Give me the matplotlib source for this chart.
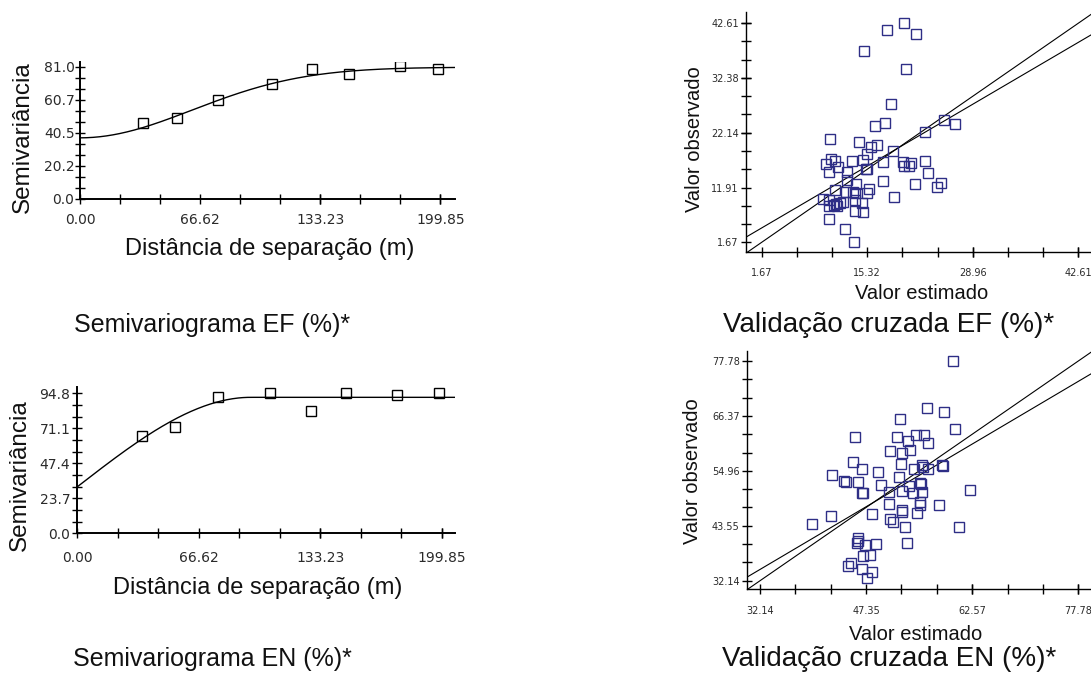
import numpy as np
import matplotlib.pyplot as plt
from matplotlib.ticker import FixedLocator

plt.rcParams["font.family"] = ["Liberation Sans", "DejaVu Sans"]

W, H = 1091, 677

# ---- semivariograma EF (modelo gaussiano)
lag_ef = [35.1, 54.0, 76.8, 106.4, 128.6, 149.4, 177.7, 198.8]
gamma_ef = [46.3, 49.3, 60.7, 70.4, 79.6, 76.5, 81.4, 79.6]
c0_ef, c_ef, a_ef = 37.4, 43.4, 88.0  # efeito pepita, contribuição, alcance

# ---- semivariograma EN (modelo esférico)
lag_en = [35.6, 53.8, 77.2, 105.5, 127.9, 147.5, 175.0, 198.5]
gamma_en = [65.9, 72.2, 92.1, 95.2, 82.8, 95.2, 93.5, 95.0]
c0_en, c_en, a_en = 31.5, 60.6, 95.0

dist_ticks = [0.0, 66.62, 133.23, 199.85]
dist_labels = ["0.00", "66.62", "133.23", "199.85"]
gam_ticks_ef = [0.0, 20.25, 40.5, 60.75, 81.0]
gam_labels_ef = ["0.0", "20.2", "40.5", "60.7", "81.0"]
gam_ticks_en = [0.0, 23.7, 47.4, 71.1, 94.8]
gam_labels_en = ["0.0", "23.7", "47.4", "71.1", "94.8"]

# ---- validação cruzada EF
est_ef = [20.12, 17.83, 21.67, 14.95, 20.29, 18.44, 25.25, 26.67, 16.37, 17.66,
          22.79, 10.55, 14.26, 15.81, 16.54, 18.70, 15.25, 10.59, 11.20, 9.99,
          14.73, 13.39, 17.36, 19.99, 20.68, 21.02, 20.08, 22.83, 23.14, 10.38,
          11.54, 12.66, 12.75, 17.40, 15.25, 15.16, 21.54, 24.30, 24.82, 11.15,
          13.83, 13.52, 13.74, 15.25, 15.51, 18.78, 9.56, 10.33, 12.14, 11.80,
          11.02, 11.37, 11.28, 10.42, 13.74, 14.64, 13.70, 14.77, 10.42, 12.40,
          13.65, 12.53]
obs_ef = [42.60, 41.36, 40.67, 37.43, 34.13, 27.46, 24.54, 23.73, 23.48, 23.91,
          22.23, 20.98, 20.42, 19.49, 19.80, 18.74, 18.12, 17.18, 16.93, 16.31,
          17.06, 16.87, 16.69, 16.75, 16.00, 16.44, 15.94, 16.93, 14.69, 14.82,
          15.81, 14.88, 13.32, 13.20, 15.31, 15.44, 12.51, 12.07, 12.70, 11.45,
          12.57, 11.14, 10.95, 10.83, 11.70, 10.21, 9.71, 9.58, 9.27, 9.08,
          8.59, 8.46, 8.84, 8.52, 9.58, 8.96, 7.53, 7.40, 6.09, 4.10,
          1.79, 11.02]
reg_ef = (2.94, 0.847)  # intercepto, inclinação
val_ticks_x_ef = [1.67, 15.32, 28.96, 42.61]
val_ticks_y_ef = [1.67, 11.91, 22.14, 32.38, 42.61]

# ---- validação cruzada EN
est_en = [59.86, 56.09, 58.48, 52.17, 60.06, 45.72, 51.74, 53.32, 54.46, 55.71,
          56.23, 50.78, 52.46, 53.60, 45.52, 46.72, 52.31, 54.22, 55.32, 55.52,
          56.28, 58.29, 58.34, 49.06, 42.42, 44.19, 44.43, 46.19, 52.03, 49.49,
          53.55, 55.08, 55.18, 46.82, 46.96, 50.64, 52.55, 54.13, 55.32, 62.25,
          50.59, 55.08, 55.08, 57.81, 52.55, 52.55, 54.70, 48.20, 42.32, 50.78,
          51.16, 39.60, 52.93, 60.68, 46.15, 46.24, 46.01, 47.20, 48.73, 53.27,
          46.86, 47.91, 45.19, 44.71, 46.82, 48.20, 47.44]
obs_en = [77.78, 68.08, 67.18, 65.80, 63.72, 62.06, 62.06, 61.23, 62.33, 62.33,
          60.67, 59.15, 58.59, 59.29, 56.79, 55.41, 56.38, 55.27, 56.24, 55.82,
          55.27, 56.17, 55.96, 54.72, 54.02, 52.92, 52.57, 52.64, 53.68, 52.02,
          51.88, 52.50, 52.15, 50.28, 50.28, 50.49, 50.84, 50.28, 50.49, 51.05,
          48.07, 48.55, 47.86, 47.93, 46.82, 46.48, 46.27, 45.92, 45.64, 45.02,
          44.26, 43.98, 43.22, 43.22, 41.07, 40.45, 40.03, 39.48, 39.69, 39.90,
          37.33, 37.40, 35.88, 35.26, 34.56, 33.87, 32.62]
reg_en = (6.97, 0.856)
val_ticks_en = [32.14, 47.35, 62.57, 77.78]
val_ticks_y_en = [32.14, 43.55, 54.96, 66.37, 77.78]


def gaussiano(h, c0, c, a):
    return c0 + c * (1 - np.exp(-(h / a) ** 2))


def esferico(h, c0, c, a):
    r = np.clip(h / a, 0, 1)
    return c0 + c * (1.5 * r - 0.5 * r ** 3)


def box(x0, y0, x1, y1):
    # caixa em pixels (origem no topo) -> fração da figura
    return [x0 / W, 1 - y1 / H, (x1 - x0) / W, (y1 - y0) / H]


def minors(ticks, lo, hi):
    step = (ticks[1] - ticks[0]) / 3
    m = np.arange(ticks[0] - 3 * step, hi + step, step)
    return [v for v in m if lo <= v <= hi and min(abs(v - t) for t in ticks) > 1e-6]


def style(ax, xt, xtl, yt, ytl, xlim, ylim, size, spine_w, xpad, ypad):
    ax.set_xlim(*xlim)
    ax.set_ylim(*ylim)
    for s in ("top", "right"):
        ax.spines[s].set_visible(False)
    for s in ("left", "bottom"):
        ax.spines[s].set_linewidth(spine_w)
    ax.set_xticks(xt)
    ax.set_xticklabels(xtl)
    ax.set_yticks(yt)
    ax.set_yticklabels(ytl)
    ax.xaxis.set_minor_locator(FixedLocator(minors(xt, *xlim)))
    ax.yaxis.set_minor_locator(FixedLocator(minors(yt, *ylim)))
    ax.tick_params(which="both", direction="inout", length=7, width=1.0,
                   labelsize=size, labelcolor="#2a2a2a")
    ax.tick_params(axis="x", which="both", pad=xpad)
    ax.tick_params(axis="y", which="both", pad=ypad)
    for lab in ax.get_xticklabels() + ax.get_yticklabels():
        lab.set_family("DejaVu Sans")


fig = plt.figure(figsize=(W / 100, H / 100), dpi=100)

# semivariogramas
ax1 = fig.add_axes(box(80, 62, 455, 198.7))
h = np.linspace(0, 208, 400)
ax1.plot(h, gaussiano(h, c0_ef, c_ef, a_ef), color="black", lw=1.0)
ax1.plot(lag_ef, gamma_ef, "s", ms=7.7, mfc="none", mec="black", mew=1.0)
style(ax1, dist_ticks, dist_labels, gam_ticks_ef, gam_labels_ef,
      (0, 208), (0, 84), 10, 1.4, 7, 0.5)

ax3 = fig.add_axes(box(77.3, 386.7, 455, 533.3))
h = np.linspace(0, 207, 400)
ax3.plot(h, esferico(h, c0_en, c_en, a_en), color="black", lw=1.0)
ax3.plot(lag_en, gamma_en, "s", ms=7.7, mfc="none", mec="black", mew=1.0)
style(ax3, dist_ticks, dist_labels, gam_ticks_en, gam_labels_en,
      (0, 207), (0, 99.3), 10, 1.4, 9, 1.5)

# validação cruzada
ax2 = fig.add_axes(box(745.7, 11.7, 1091, 252.3))
ax2.axline((0, 0), slope=1, color="black", lw=0.8)
ax2.axline((0, reg_ef[0]), slope=reg_ef[1], color="black", lw=0.8)
ax2.plot(est_ef, obs_ef, "s", ms=7.2, mfc="none", mec="#2e2e86", mew=1.0)
style(ax2, val_ticks_x_ef, [f"{v:.2f}" for v in val_ticks_x_ef],
      val_ticks_y_ef, [f"{v:.2f}" for v in val_ticks_y_ef],
      (-0.40, 44.27), (-0.20, 44.78), 7, 1.0, 8, 1.5)

ax4 = fig.add_axes(box(746.7, 350.7, 1091, 589))
ax4.axline((40, 40), slope=1, color="black", lw=0.8)
ax4.axline((0, reg_en[0]), slope=reg_en[1], color="black", lw=0.8)
ax4.plot(est_en, obs_en, "s", ms=7.2, mfc="none", mec="#2e2e86", mew=1.0)
style(ax4, val_ticks_en, [f"{v:.2f}" for v in val_ticks_en],
      val_ticks_y_en, [f"{v:.2f}" for v in val_ticks_y_en],
      (30.23, 79.6), (30.42, 79.92), 7, 1.0, 9, 1.5)


def label(x, y, s, size, rot=0):
    fig.text(x / W, 1 - y / H, s, fontsize=size, rotation=rot,
             ha="center", va="center", color="#111111")


label(23, 137, "Semivariância", 17.5, 90)
label(270, 249, "Distância de separação (m)", 17)
label(20, 475, "Semivariância", 17.5, 90)
label(258, 588, "Distância de separação (m)", 17)

label(695, 139, "Valor observado", 14.5, 90)
label(922, 293, "Valor estimado", 14.5)
label(693, 471, "Valor observado", 14.5, 90)
label(916, 635, "Valor estimado", 14.5)

label(212, 325, "Semivariograma EF (%)*", 18)
label(889, 325, "Validação cruzada EF (%)*", 20)
label(212, 659, "Semivariograma EN (%)*", 18)
label(889, 659, "Validação cruzada EN (%)*", 20)

fig.savefig("out.png", dpi=100, facecolor="white")
